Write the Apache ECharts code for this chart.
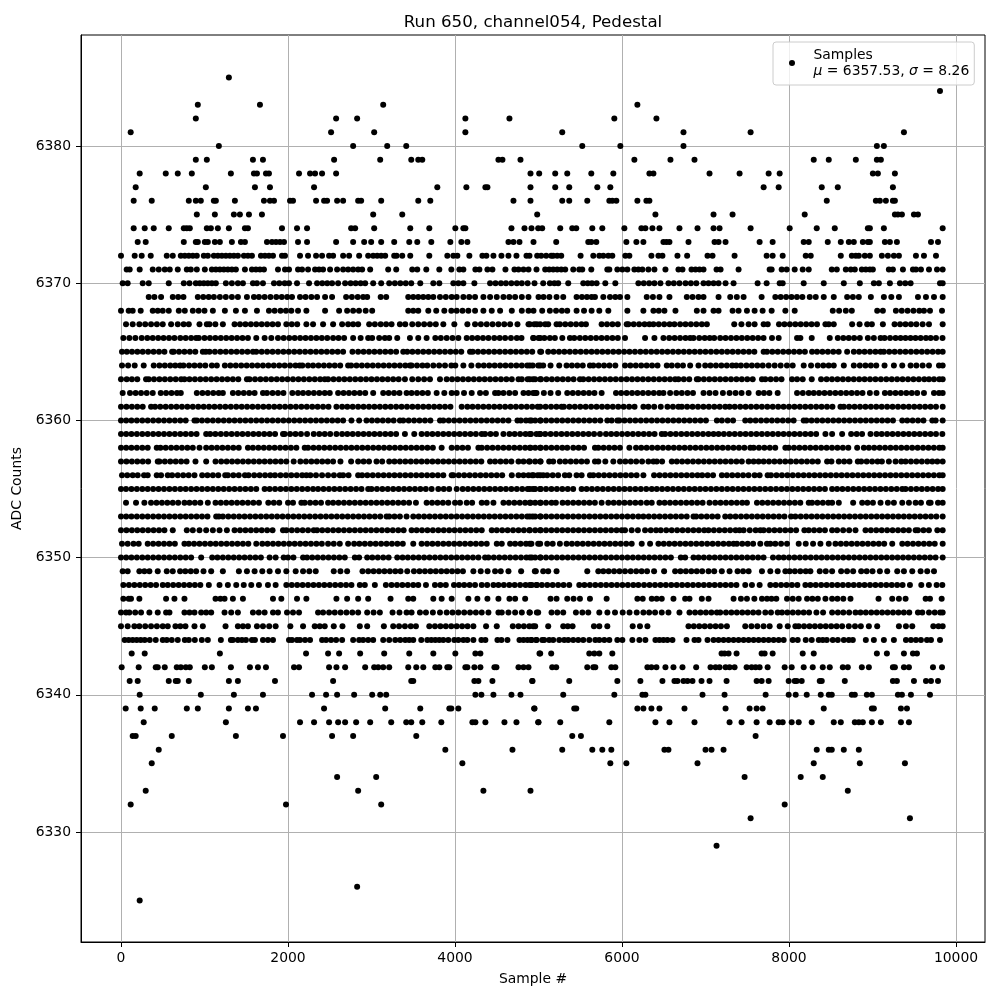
<!DOCTYPE html>
<html><head><meta charset="utf-8">
<script src="https://cdn.jsdelivr.net/npm/echarts@6/dist/echarts.min.js"></script>
<style>html,body{margin:0;padding:0;background:#fff}#c{width:1000px;height:1000px}</style></head>
<body><div id="c"></div>
<script>
const xTicks=[0,2000,4000,6000,8000,10000];
const yTicks=[6330,6340,6350,6360,6370,6380];
const level6385=[1292];
const level6384=[9808];
const level6383=[920,1664,3140,6184];
const level6382=[896,2576,2828,4124,4652,5908,6412];
const level6381=[116,2516,3032,4124,5284,6736,7540,9376];
const level6380=[1172,2780,3188,3416,5524,5980,6736,9052,9136];
const level6379=[896,1028,1580,1700,2552,3104,3476,3560,3608,4520,4568,4784,6148,6580,6868,8296,8476,8800,9052,9100];
const level6378=[224,536,680,848,1316,1592,1628,1736,1772,2132,2264,2324,2408,2576,4904,5008,5200,5344,5632,5896,6328,6376,7048,7408,7756,7888,9004,9064,9268];
const level6377=[176,1016,1604,1784,2312,3788,4136,4364,4388,4904,5200,5368,5704,5860,7696,7876,8392,8584,9244];
const level6376=[152,368,812,896,956,1112,1136,1364,1712,1784,1832,2024,2060,2336,2432,2468,2588,2660,2840,2876,3116,3560,3704,4700,4904,5284,5368,5584,5848,5884,5932,6184,6292,6328,8452,9040,9088,9160,9244,9268];
const level6375=[908,1124,1352,1424,1532,1688,3020,3368,4984,6400,7096,7324,8188,9268,9304,9352,9496,9544];
const level6374=[152,284,392,572,752,788,824,1028,1076,1160,1292,1484,1520,1928,2108,2228,2756,2804,3032,3464,3692,4004,4100,4124,4676,4832,4916,4996,5044,5260,5404,5452,5644,5764,6028,6232,6280,6364,6448,6688,6904,7096,7168,7540,8008,8332,8548,8944,8968,9136,9840];
const level6373=[200,296,752,896,920,1004,1040,1124,1184,1328,1436,1484,1748,1808,1856,1904,1952,2120,2228,2576,2780,2912,2996,3116,3272,3452,3548,3716,3944,4076,4148,4640,4700,4772,4940,5212,5596,5632,5692,6052,6172,6256,6496,6532,6568,6796,7108,7156,7240,7648,7804,8176,8236,8464,8620,8716,8776,8884,8944,8968,9148,9208,9292,9700,9784];
const level6372=[0,164,248,356,548,620,716,764,812,860,908,992,1040,1112,1160,1208,1256,1304,1352,1400,1472,1520,1568,1676,1724,1772,1820,1928,1964,2144,2240,2336,2408,2492,2540,2660,2732,2852,2960,3020,3068,3116,3164,3272,3300,3368,3464,3692,3908,3980,4028,4172,4328,4376,4460,4556,4640,4736,4856,4892,4984,5032,5092,5152,5176,5224,5272,5504,5656,5728,5776,5836,5884,6040,6088,6352,6436,6484,6664,6780,7024,7084,7348,7732,7804,7924,8200,8260,8620,8752,8800,8836,8908,8968,9112,9184,9256,9316,9520,9616,9760];
const level6371=[68,104,224,380,452,524,584,680,788,836,908,1004,1088,1136,1184,1232,1280,1328,1376,1484,1568,1616,1664,1712,1880,1964,2012,2120,2168,2240,2324,2372,2420,2504,2588,2660,2720,2780,2840,2888,2984,3200,3296,3488,3548,3656,3812,3956,4052,4100,4244,4292,4388,4448,4604,4712,4760,4820,4880,4976,5080,5128,5176,5224,5272,5320,5416,5488,5524,5632,5824,5848,5944,6004,6064,6148,6196,6244,6316,6388,6520,6676,6724,6832,6880,6928,6976,7132,7180,7396,7768,7792,7912,7972,8068,8164,8236,8512,8572,8680,8740,8788,8872,8920,8968,9004,9196,9244,9364,9484,9520,9580,9676,9772,9840];
const level6370=[20,80,260,332,572,752,820,896,944,992,1040,1088,1136,1256,1328,1400,1460,1580,1628,1700,1832,1896,1960,2012,2108,2252,2348,2410,2470,2528,2600,2684,2750,2810,2870,2924,3020,3116,3212,3280,3345,3410,3476,3584,3740,3812,3980,4040,4100,4232,4420,4485,4550,4610,4675,4740,4800,4870,4952,5056,5136,5190,5236,5356,5536,5590,5640,5696,5800,5920,6196,6260,6325,6388,6460,6556,6620,6688,6760,6825,6890,6976,7036,7096,7156,7240,7336,7624,7732,7888,7924,8176,8416,8656,8848,9016,9076,9208,9328,9392,9456,9808,9840];
const level6369=[332,400,480,620,685,748,920,985,1050,1112,1184,1255,1328,1400,1508,1592,1652,1720,1790,1860,1925,1990,2048,2144,2210,2280,2348,2444,2528,2696,2765,2835,2900,2948,3110,3176,3440,3500,3560,3620,3680,3740,3820,3890,3960,4020,4100,4170,4240,4340,4420,4500,4580,4650,4720,4800,4880,5000,5060,5130,5216,5296,5456,5520,5580,5636,5676,5776,5856,5920,5976,6064,6296,6370,6448,6568,6776,6845,6916,6976,7156,7296,7375,7456,7672,7836,7900,7965,8030,8095,8160,8248,8320,8416,8536,8696,8765,8836,8980,9136,9225,9316,9544,9640,9736,9840];
const level6368=[0,92,140,236,380,440,500,572,692,764,860,930,1000,1100,1244,1376,1484,1628,1772,1840,1910,1975,2040,2120,2220,2444,2612,2708,2780,2850,2930,3008,3440,3500,3560,3680,3775,3872,3956,4020,4090,4160,4240,4340,4440,4540,4680,4800,4880,4940,5044,5136,5210,5280,5344,5456,5545,5636,5728,5836,6064,6256,6376,6440,6508,6640,6896,6976,7096,7156,7324,7396,7496,7588,7684,7792,7956,8068,8524,8600,8680,8752,9056,9124,9280,9350,9420,9490,9560,9616,9688,9832];
const level6367=[60,140,220,290,360,430,500,600,680,750,812,940,1028,1060,1130,1220,1360,1425,1490,1555,1620,1685,1750,1815,1880,1980,2045,2110,2220,2300,2420,2540,2648,2720,2780,2840,2972,3040,3110,3175,3240,3340,3404,3488,3560,3630,3700,3770,3860,3992,4148,4240,4310,4380,4450,4520,4590,4660,4748,4880,4950,5020,4896,4980,5080,5116,5216,5256,5320,5385,5450,5515,5568,5756,5820,5885,5950,6056,6076,6140,6205,6270,6328,6376,6440,6505,6570,6628,6696,6760,6825,6890,6956,7016,7344,7430,7516,7588,7696,7745,7880,7945,8010,8075,8140,8205,8270,8335,8436,8476,8536,8756,8845,8936,8992,9124,9264,9330,9395,9460,9525,9600,9676,9840];
const level6366=[28,100,172,248,315,380,445,510,575,640,710,775,840,900,932,1000,1065,1130,1195,1260,1325,1390,1455,1520,1620,1720,1800,1880,1948,2015,2080,2145,2210,2275,2340,2405,2470,2540,2605,2672,2780,2870,2960,3008,3092,3160,3212,3308,3460,3560,3660,3764,3830,3900,3970,4040,4140,4205,4270,4335,4400,4470,4535,4600,4670,4740,4796,4940,5020,4936,5000,5070,5136,5196,5285,5376,5428,5495,5560,5625,5690,5755,5820,5885,5950,6036,6276,6388,6496,6565,6630,6695,6760,6816,6856,6925,6990,7050,7104,7176,7240,7305,7370,7435,7500,7565,7630,7695,7796,7876,8096,8136,8272,8488,8584,8650,8715,8780,8848,8944,9016,9096,9144,9210,9276,9336,9395,9455,9515,9576,9640,9696,9760,9838];
const level6365=[12,70,132,196,260,325,390,455,520,612,632,695,760,825,890,980,1016,1060,1125,1190,1255,1320,1385,1450,1515,1580,1620,1685,1750,1815,1880,1945,2010,2075,2140,2205,2270,2335,2400,2465,2530,2595,2660,2772,2840,2905,2970,3035,3100,3165,3230,3295,3380,3428,3490,3555,3620,3685,3750,3815,3880,3945,4010,4075,4180,4212,4275,4340,4405,4470,4535,4600,4665,4730,4795,4860,4925,5020,5032,5116,5180,5245,5310,5375,5440,5505,5570,5635,5700,5765,5830,5895,5960,6025,6090,6155,6220,6285,6350,6415,6480,6545,6610,6675,6740,6805,6870,6935,7000,7065,7130,7195,7260,7325,7390,7455,7520,7585,7696,7736,7800,7865,7930,7995,8060,8125,8190,8276,8336,8400,8465,8530,8595,8696,8776,8840,8905,8970,9035,9096,9136,9200,9265,9330,9395,9460,9525,9590,9655,9720,9785,9840];
const level6364=[12,85,164,272,392,460,525,590,650,708,748,815,880,945,1010,1088,1148,1244,1310,1375,1440,1505,1570,1635,1700,1765,1830,1895,1960,2025,2090,2140,2172,2240,2300,2365,2430,2495,2560,2625,2720,2756,2820,2885,2950,3015,3080,3145,3210,3275,3340,3405,3460,3480,3545,3610,3668,3740,3810,3880,3956,4004,4100,4196,4280,4345,4410,4475,4540,4605,4670,4735,4800,4865,4930,5020,4896,4996,5056,5144,5248,5336,5400,5465,5530,5616,5656,5720,5785,5850,5920,6036,6100,6165,6230,6295,6360,6425,6536,6596,6665,6730,6816,6916,6996,7060,7125,7190,7255,7320,7368,7424,7490,7555,7620,7685,7756,7828,7900,7975,8044,8176,8264,8344,8410,8475,8536,8656,8776,8848,8915,8980,9045,9144,9256,9356,9456,9525,9600,9676,9796,9840];
const level6363=[0,68,130,195,300,332,395,460,525,590,655,720,760,820,885,950,1015,1080,1145,1210,1275,1340,1405,1508,1540,1605,1670,1735,1800,1865,1930,1995,2060,2125,2190,2255,2320,2385,2440,2480,2545,2610,2675,2740,2805,2870,2935,3000,3065,3130,3195,3260,3325,3400,3488,3560,3630,3700,3820,3900,3965,4030,4095,4160,4225,4290,4355,4420,4485,4550,4615,4680,4760,4800,4870,4935,5020,4896,4960,5030,5095,5160,5225,5290,5355,5420,5496,5536,5600,5665,5730,5795,5860,5925,5990,6055,6120,6185,6250,6315,6380,6445,6510,6575,6636,6676,6740,6805,6896,6916,6980,7045,7110,7175,7240,7305,7370,7435,7500,7565,7676,7716,7780,7845,7910,8036,8096,8164,8272,8384,8450,8515,8580,8645,8710,8775,8840,8905,8970,9035,9100,9165,9230,9295,9360,9425,9490,9555,9620,9676,9736,9800,9840];
const level6362=[20,108,175,240,308,380,476,540,605,670,716,908,975,1040,1105,1170,1220,1340,1405,1470,1535,1600,1700,1748,1815,1880,1945,2052,2120,2180,2245,2310,2375,2440,2500,2600,2665,2730,2795,2860,2925,3020,3140,3205,3270,3335,3420,3480,3545,3610,3675,3780,3872,3960,4020,4108,4200,4300,4370,4480,4520,4580,4650,4720,4820,4880,4960,4936,4976,5064,5144,5236,5344,5410,5475,5540,5605,5670,5756,5928,5990,6055,6120,6185,6250,6315,6380,6445,6496,6576,6650,6716,6784,6850,6976,7048,7120,7208,7288,7360,7432,7516,7636,7700,7765,7864,8096,8165,8236,8296,8360,8425,8490,8555,8620,8685,8750,8815,8880,8968,9048,9148,9210,9275,9340,9405,9470,9535,9616,9736,9796,9840];
const level6361=[0,65,130,195,260,360,408,470,535,600,665,730,795,860,925,990,1055,1120,1185,1250,1315,1380,1445,1510,1575,1640,1705,1770,1835,1900,1965,2030,2095,2160,2225,2290,2355,2420,2485,2580,2648,2710,2775,2840,2905,2970,3035,3100,3165,3230,3295,3360,3425,3490,3555,3620,3685,3750,3815,3880,3945,4080,4148,4210,4275,4340,4405,4470,4535,4600,4665,4730,4795,4860,4925,4990,5020,5085,5150,5215,5276,5304,5370,5435,5500,5565,5630,5695,5760,5825,5890,5955,6020,6085,6150,6256,6316,6385,6464,6544,6610,6676,6716,6780,6845,6910,6975,7040,7105,7170,7236,7288,7350,7415,7480,7545,7610,7675,7740,7805,7870,7935,8000,8065,8130,8195,8260,8325,8390,8455,8520,8616,8656,8720,8785,8850,8915,8980,9045,9110,9175,9240,9305,9370,9435,9500,9565,9630,9695,9760,9840];
const level6360=[0,62,125,190,255,320,385,450,515,580,645,710,775,880,908,970,1035,1100,1165,1230,1295,1360,1425,1490,1555,1620,1685,1750,1815,1880,1945,2010,2075,2140,2205,2270,2335,2400,2465,2530,2595,2660,2760,2852,2940,3005,3070,3135,3200,3265,3340,3380,3445,3510,3575,3640,3705,3820,3860,3925,3990,4055,4120,4185,4250,4315,4380,4445,4510,4575,4640,4748,4788,4850,4915,5020,4896,4960,5025,5090,5155,5220,5285,5350,5415,5480,5545,5610,5675,5740,5824,5876,5944,5968,6030,6095,6160,6225,6290,6355,6420,6485,6550,6615,6680,6745,6810,6875,6940,7005,7136,7196,7265,7330,7476,7536,7600,7665,7730,7795,7860,7925,7990,8055,8176,8208,8270,8335,8400,8465,8530,8595,8660,8725,8790,8855,8920,8985,9050,9115,9180,9245,9356,9416,9480,9545,9610,9716,9756,9840];
const level6359=[0,62,125,190,255,320,385,450,515,580,645,710,775,840,905,1020,1068,1130,1195,1260,1325,1390,1455,1520,1585,1650,1715,1780,1845,1940,1960,2025,2090,2155,2228,2308,2375,2440,2505,2580,2648,2710,2775,2840,2905,2970,3035,3100,3165,3230,3295,3400,3512,3600,3665,3730,3795,3860,3925,3990,4055,4120,4185,4250,4320,4360,4425,4490,4580,4652,4715,4780,4845,4910,5020,4896,4976,5016,5080,5145,5210,5275,5340,5405,5470,5535,5600,5665,5736,5808,5870,5935,6000,6065,6130,6195,6260,6325,6390,6476,6516,6580,6645,6710,6775,6840,6905,6970,7035,7096,7156,7220,7285,7350,7415,7480,7545,7610,7675,7740,7805,7870,7935,8000,8065,8130,8195,8260,8325,8436,8516,8636,8744,8810,8875,8976,9048,9110,9175,9240,9305,9370,9435,9500,9565,9630,9695,9760,9836];
const level6358=[0,62,125,190,255,320,428,472,535,600,665,730,795,860,940,1020,1085,1150,1215,1280,1345,1410,1520,1580,1645,1710,1775,1840,1905,1970,2035,2100,2200,2240,2305,2370,2435,2500,2565,2630,2695,2760,2825,2890,2955,3020,3085,3150,3215,3280,3345,3410,3475,3540,3605,3670,3735,3840,3960,4025,4090,4155,4280,4320,4385,4450,4515,4580,4645,4710,4775,4840,4905,5020,4896,4960,5025,5090,5155,5220,5285,5344,5416,5480,5545,5676,5716,5780,5845,5910,5975,6088,6168,6230,6295,6360,6425,6490,6555,6620,6685,6750,6815,6880,6945,7010,7075,7140,7205,7270,7335,7400,7465,7536,7576,7640,7705,7770,7835,7956,7996,8060,8125,8190,8255,8320,8385,8450,8515,8580,8645,8710,8816,8896,8956,9020,9085,9150,9215,9280,9345,9410,9475,9540,9605,9670,9735,9800,9840];
const level6357=[0,65,130,195,260,325,440,460,525,590,655,720,785,892,1020,1132,1200,1265,1330,1395,1460,1525,1590,1655,1720,1785,1850,1915,1980,2068,2148,2215,2280,2345,2410,2475,2540,2628,2756,2840,2905,2970,3060,3128,3212,3275,3340,3405,3470,3535,3600,3665,3730,3795,3860,3925,3990,4055,4120,4185,4250,4315,4420,4480,4545,4610,4675,4760,4820,4885,5020,4896,4960,5025,5128,5176,5256,5320,5385,5450,5515,5580,5676,5716,5800,5896,5976,6040,6105,6170,6240,6316,6376,6416,6480,6596,6656,6720,6785,6850,6915,6980,7045,7110,7175,7240,7305,7370,7435,7516,7576,7636,7696,7760,7825,7890,7955,8020,8085,8150,8215,8280,8345,8456,8508,8596,8660,8724,8824,8864,8930,8995,9060,9112,9196,9276,9344,9396,9460,9525,9590,9656,9716,9776,9840];
const level6356=[12,75,140,200,276,320,428,480,560,612,680,745,810,880,972,1035,1100,1165,1248,1280,1345,1410,1484,1528,1595,1660,1725,1788,1844,1910,1975,2040,2105,2170,2220,2268,2335,2408,2480,2550,2620,2660,2725,2840,2888,2950,3015,3080,3145,3210,3275,3340,3405,3470,3535,3600,3665,3730,3795,3860,3960,3980,4045,4110,4175,4240,4305,4370,4435,4500,4565,4680,4760,4820,4880,4940,5020,4924,4990,5056,5104,5170,5235,5316,5368,5456,5516,5616,5656,5720,5785,5850,5915,5980,6045,6110,6175,6256,6384,6450,6515,6580,6645,6710,6775,6840,6904,6960,7025,7090,7196,7256,7320,7385,7450,7515,7588,7648,7744,7784,7850,7915,7980,8045,8110,8175,8240,8305,8370,8435,8500,8565,8630,8695,8760,8825,8890,8955,9020,9085,9150,9215,9280,9345,9410,9475,9540,9605,9670,9735,9800,9840];
const level6355=[0,60,125,190,255,320,385,450,515,580,645,710,775,840,905,970,1035,1100,1165,1230,1295,1360,1425,1490,1555,1620,1720,1780,1845,1910,1975,2040,2105,2170,2235,2300,2360,2425,2490,2555,2620,2685,2750,2815,2880,2960,3000,3065,3130,3195,3260,3325,3390,3455,3520,3585,3650,3720,3800,3865,3930,4020,4092,4155,4220,4285,4350,4415,4480,4545,4610,4675,4740,4805,4870,4935,5020,4896,4960,5025,5090,5155,5220,5285,5350,5415,5516,5576,5640,5705,5770,5835,5900,5965,6030,6095,6160,6225,6290,6356,6416,6480,6545,6610,6675,6740,6805,6870,6935,7000,7065,7130,7195,7260,7325,7390,7455,7520,7585,7650,7715,7780,7845,7910,7975,8040,8105,8170,8235,8300,8365,8430,8516,8576,8640,8705,8770,8835,8900,8965,9030,9095,9160,9225,9290,9356,9396,9460,9525,9590,9655,9720,9785,9840];
const level6354=[60,180,280,360,425,490,555,620,685,760,820,885,950,1040,1132,1195,1260,1325,1390,1455,1520,1585,1652,1764,1830,1895,2000,2060,2160,2200,2265,2330,2395,2480,2540,2605,2670,2735,2800,2865,2930,2995,3060,3125,3190,3255,3320,3385,3450,3532,3660,3725,3790,3855,3920,4000,4060,4140,4205,4320,4380,4460,4580,4645,4710,4775,4840,4905,5020,4896,4960,5025,5090,5156,5208,5288,5350,5415,5480,5545,5610,5675,5756,5836,5900,5965,6030,6095,6160,6225,6296,6356,6448,6510,6575,6640,6705,6770,6835,6900,6965,7048,7116,7180,7245,7310,7375,7440,7496,7616,7680,7745,7810,7875,7940,8005,8070,8135,8236,8276,8340,8405,8470,8516,8596,8768,8876,8940,9005,9096,9184,9256,9356,9436,9516,9580,9676,9696,9784,9840];
const level6353=[0,62,125,190,255,320,385,450,515,580,645,710,775,840,905,970,1035,1140,1172,1220,1285,1350,1415,1480,1545,1610,1675,1740,1805,1870,1935,2000,2065,2130,2195,2260,2325,2390,2455,2520,2585,2650,2715,2780,2845,2910,2975,3040,3105,3180,3212,3275,3340,3420,3500,3565,3630,3695,3760,3825,3890,3955,4020,4085,4150,4215,4280,4345,4410,4475,4540,4605,4670,4735,4800,4865,4930,5020,4896,4960,5025,5090,5155,5220,5285,5350,5415,5480,5545,5610,5675,5740,5805,5870,5935,6000,6065,6130,6196,6256,6320,6385,6450,6515,6580,6645,6710,6775,6856,6888,6950,7015,7080,7145,7236,7296,7360,7425,7490,7555,7620,7685,7750,7815,7880,7945,8024,8076,8140,8205,8270,8335,8400,8465,8530,8595,8660,8725,8790,8855,8920,8985,9050,9115,9180,9245,9310,9375,9440,9505,9570,9635,9700,9765,9840];
const level6352=[0,65,130,195,260,325,390,455,520,620,788,860,940,1020,1100,1180,1268,1360,1425,1490,1555,1620,1685,1750,1815,1940,1980,2045,2110,2175,2240,2308,2348,2410,2475,2540,2605,2670,2735,2800,2865,2930,2995,3060,3125,3190,3255,3320,3385,3480,3540,3605,3670,3735,3800,3865,3930,3995,4060,4125,4190,4255,4320,4440,4500,4565,4630,4695,4760,4825,4890,5020,4896,4960,5025,5090,5155,5220,5285,5350,5415,5480,5545,5610,5675,5740,5805,5870,5935,5996,6036,6116,6190,6276,6344,6408,6464,6530,6595,6660,6725,6790,6855,6920,6984,7036,7100,7165,7230,7295,7360,7408,7456,7530,7600,7656,7696,7760,7825,7890,7955,8020,8085,8184,8236,8300,8365,8430,8516,8576,8648,8720,8796,8916,8980,9045,9110,9175,9240,9305,9370,9435,9516,9544,9610,9675,9776,9840];
const level6351=[12,80,150,212,320,385,450,515,580,645,760,812,875,940,1005,1070,1135,1200,1265,1330,1395,1460,1525,1620,1692,1755,1820,1885,1950,2015,2080,2145,2210,2275,2340,2405,2480,2548,2620,2720,2792,2855,2920,2985,3050,3115,3180,3245,3310,3375,3500,3600,3665,3730,3795,3860,3925,3990,4055,4120,4185,4250,4315,4380,4500,4560,4660,4720,4785,4850,4915,5020,4896,4996,5104,5170,5256,5336,5400,5465,5530,5595,5660,5725,5790,5855,5920,5985,6050,6116,6236,6336,6436,6500,6565,6630,6695,6760,6825,6890,6955,7020,7085,7150,7215,7280,7336,7376,7440,7505,7570,7656,7736,7776,7836,7905,7976,8116,8200,8288,8376,8476,8556,8620,8685,8750,8815,8880,8945,9010,9075,9140,9236,9356,9420,9485,9550,9615,9680,9745,9840];
const level6350=[0,62,125,190,255,320,385,450,515,580,645,710,775,840,960,1092,1155,1220,1285,1350,1415,1480,1545,1610,1675,1780,1852,1948,2000,2065,2180,2228,2290,2355,2420,2485,2550,2615,2680,2800,2852,2948,3010,3075,3140,3205,3308,3372,3435,3500,3565,3630,3695,3760,3825,3890,3955,4020,4085,4150,4215,4280,4360,4400,4465,4530,4595,4660,4725,4790,4855,4920,5020,4896,4960,5025,5090,5155,5220,5285,5350,5415,5480,5545,5610,5675,5740,5805,5870,5935,6000,6065,6130,6195,6260,6325,6390,6455,6520,6585,6704,6756,6856,6916,6980,7045,7110,7175,7240,7305,7370,7435,7500,7565,7630,7695,7808,7876,7936,8000,8065,8130,8195,8260,8325,8390,8455,8520,8585,8650,8715,8780,8845,8910,8975,9040,9105,9170,9235,9300,9365,9430,9495,9560,9625,9690,9755,9840];
const level6349=[20,80,220,280,340,440,548,620,708,770,835,900,988,1080,1220,1412,1508,1600,1692,1780,1880,1980,2092,2180,2255,2332,2548,2628,2708,2892,2960,3025,3090,3155,3220,3285,3348,3428,3508,3575,3640,3705,3770,3835,3900,3965,4030,4095,4220,4308,4390,4480,4548,4640,4792,4968,4956,5056,5116,5216,5584,5716,5776,5840,5905,5970,6036,6104,6170,6235,6300,6384,6504,6636,6700,6765,6830,6895,6960,7036,7104,7195,7288,7384,7450,7516,7676,7776,7864,7956,8008,8070,8135,8200,8256,8368,8440,8516,8624,8695,8768,8864,8930,9000,9088,9176,9296,9376,9476,9576,9655,9736];
const level6348=[28,95,160,225,290,355,420,500,560,625,690,755,820,885,950,1052,1180,1280,1380,1470,1560,1652,1760,1852,1980,2045,2110,2175,2240,2305,2370,2435,2500,2565,2630,2695,2760,2860,2920,3040,3172,3240,3305,3370,3435,3500,3560,3652,3760,3825,3890,3988,4048,4110,4175,4240,4320,4385,4460,4520,4585,4650,4715,4780,4845,4920,4980,4896,4976,5040,5105,5170,5235,5300,5368,5488,5550,5615,5680,5745,5810,5875,5940,6005,6070,6135,6196,6264,6330,6395,6460,6525,6590,6655,6720,6785,6850,6915,6980,7045,7110,7175,7240,7305,7370,7476,7556,7648,7776,7840,7905,7970,8035,8100,8196,8256,8320,8385,8450,8515,8580,8645,8710,8775,8840,8905,8970,9035,9100,9165,9230,9295,9360,9448,9584,9675,9768,9836];
const level6347=[28,92,120,220,540,640,760,1132,1190,1240,1340,1460,1820,1920,2108,2220,2580,2708,2840,2960,3228,3440,3500,3740,3840,3960,4160,4268,4388,4520,4652,4720,4840,5144,5216,5344,5420,5496,5616,5816,6184,6248,6356,6415,6476,6616,6756,6808,6956,7036,7336,7424,7496,7585,7676,7736,7790,7848,7976,8045,8116,8216,8280,8345,8436,8516,8580,8650,8736,9072,9236,9316,9396,9636,9688,9828];
const level6346=[0,60,100,170,240,340,440,540,580,760,820,880,960,1020,1080,1240,1320,1400,1580,1650,1720,1820,1880,1988,2060,2132,2360,2420,2492,2560,2630,2700,2770,2840,2948,3025,3100,3252,3335,3420,3480,3580,3652,3735,3820,3900,3970,4040,4110,4180,4250,4320,4400,4520,4560,4640,4720,4800,4892,4980,4896,4996,5156,5225,5296,5448,5525,5596,5728,5825,5916,6008,6090,6176,6256,6325,6396,6476,6556,6688,6808,6875,6940,7005,7070,7136,7176,7245,7310,7375,7440,7505,7570,7635,7716,7784,7864,7916,7980,8045,8110,8175,8240,8328,8408,8516,8585,8650,8720,8796,8856,8920,8985,9050,9115,9180,9245,9310,9375,9440,9544,9596,9676,9745,9810,9840];
const level6345=[0,80,160,220,290,360,430,500,560,652,710,772,880,980,1252,1400,1460,1520,1628,1700,1775,1852,2028,2180,2320,2380,2440,2548,2652,2860,2948,3148,3260,3330,3400,3470,3532,3692,3760,3825,3890,3955,4020,4085,4150,4220,4372,4500,4692,4760,4825,4890,4960,4936,5116,5296,5350,5408,5664,5728,5824,6128,6215,6304,6796,6860,6925,6990,7055,7120,7185,7256,7476,7550,7620,7695,7768,7888,7985,8076,8116,8180,8245,8310,8375,8440,8505,8570,8636,8716,8790,8860,8956,9056,9316,9400,9476,9728,9790,9840];
const level6344=[44,92,140,188,236,284,344,416,500,548,608,680,764,812,884,968,1040,1196,1316,1340,1400,1448,1496,1568,1604,1700,1760,1820,2012,2048,2108,2144,2204,2264,2408,2456,2516,2576,2648,2780,2852,2900,2960,3020,3140,3212,3284,3344,3404,3452,3500,3596,3668,3716,3764,3812,3860,3920,3992,4040,4100,4148,4220,4316,4364,4508,4556,4628,4772,4820,4868,4916,4976,4912,4972,5044,5068,5128,5176,5248,5308,5356,5416,5476,5536,5608,5680,5728,5788,5848,5944,6004,6124,6208,6280,6400,6448,6496,6544,6604,6772,6868,6916,7024,7096,7156,7216,7276,7336,7396,7456,7516,7576,7636,7696,7756,7816,7876,7936,8044,8104,8200,8272,8356,8404,8452,8524,8584,8656,8716,8764,8920,9016,9136,9256,9400,9460,9520,9580,9652,9700,9808];
const level6343=[128,284,1184,2216,2480,2612,2864,3152,3452,3740,4004,4244,4304,5012,5020,5152,5608,5668,5728,5884,7192,7228,7276,7372,7672,7708,7804,8164,8296,9052,9172,9376,9484,9532];
const level6342=[8,212,416,440,524,668,716,776,824,1004,1088,1316,1544,1640,1736,2072,2132,2492,2580,2684,2924,3032,3080,3140,3212,3440,3536,3620,3764,3812,3908,3932,4124,4148,4232,4304,4472,4496,4760,4820,4880,5164,5212,5584,5656,5680,5872,5920,6304,6352,6412,6520,6616,6724,6888,7060,7120,7168,7240,7288,7348,7492,7552,7600,7648,7744,7948,8032,8176,8284,8404,8488,8644,8704,8872,8956,9244,9268,9376,9436,9724,9832];
const level6341=[104,200,572,656,680,812,1292,1400,1844,2540,3476,3500,4232,4280,4448,4928,4924,5368,5944,6220,6484,6628,6664,6736,6784,6844,6952,7048,7252,7612,7672,7756,7996,8068,8092,8152,8368,8392,8668,9244,9292,9496,9640,9700,9784];
const level6340=[224,956,1352,1700,2288,2456,2588,2792,3008,3104,3176,4244,4316,4460,4676,4784,5296,5908,6244,6280,6964,7228,7720,7996,8080,8212,8380,8476,8512,8752,8788,8932,8992,9304,9352,9460,9688];
const level6339=[56,236,404,788,920,1292,1520,1616,2432,3164,3584,3932,3956,4040,4952,4948,5428,5452,6184,6256,6352,6448,6748,7240,7528,7612,7684,8416,8992,9016,9340,9412];
const level6338=[272,1256,2144,2312,2492,2600,2684,2816,2984,3236,3416,3476,3608,3836,4208,4244,4364,4592,4736,5000,4996,5260,5848,6400,6568,6868,7288,7432,7612,7768,7876,7924,8032,8116,8272,8536,8620,8788,8836,8884,8992,9100,9340,9436];
const level6337=[140,176,608,1376,1940,2528,2780,3536,5404,5508,7600];
const level6336=[452,3884,4688,5284,5644,5764,5872,6508,6556,7000,7072,7216,8332,8476,8512,8656,8836];
const level6335=[368,4088,5860,6052,6904,8296,8848,9388];
const level6334=[2588,3056,7468,8140,8404];
const level6333=[296,2840,4340,4904,8704];
const level6332=[116,1976,3116,7948];
const level6331=[7540,9448];
const level6329=[7132];
const level6326=[2828];
const level6325=[224];
const rows=[[6385,level6385],[6384,level6384],[6383,level6383],[6382,level6382],[6381,level6381],[6380,level6380],[6379,level6379],[6378,level6378],[6377,level6377],[6376,level6376],[6375,level6375],[6374,level6374],[6373,level6373],[6372,level6372],[6371,level6371],[6370,level6370],[6369,level6369],[6368,level6368],[6367,level6367],[6366,level6366],[6365,level6365],[6364,level6364],[6363,level6363],[6362,level6362],[6361,level6361],[6360,level6360],[6359,level6359],[6358,level6358],[6357,level6357],[6356,level6356],[6355,level6355],[6354,level6354],[6353,level6353],[6352,level6352],[6351,level6351],[6350,level6350],[6349,level6349],[6348,level6348],[6347,level6347],[6346,level6346],[6345,level6345],[6344,level6344],[6343,level6343],[6342,level6342],[6341,level6341],[6340,level6340],[6339,level6339],[6338,level6338],[6337,level6337],[6336,level6336],[6335,level6335],[6334,level6334],[6333,level6333],[6332,level6332],[6331,level6331],[6329,level6329],[6326,level6326],[6325,level6325]];
const points=[];
rows.forEach(([y,xs])=>xs.forEach(x=>points.push([x,y])));
const F='"DejaVu Sans"';
const plain=v=>String(v);
const chart=echarts.init(document.getElementById('c'),null,{renderer:'canvas'});
const axisCommon={
  type:'value',
  axisLine:{show:true,onZero:false,lineStyle:{color:'#000',width:1}},
  splitLine:{show:true,lineStyle:{color:'#b0b0b0',width:1}},
  nameTextStyle:{color:'#000',fontFamily:F,fontSize:13.9},
  nameLocation:'middle'
};
chart.setOption({
  animation:false,
  backgroundColor:'#fff',
  title:{text:'Run 650, channel054, Pedestal',left:528,top:9,textAlign:'center',
    textStyle:{fontFamily:F,fontSize:16.67,fontWeight:'normal',color:'#000'}},
  grid:{left:81,right:15,top:35,bottom:58,show:true,borderColor:'#000',borderWidth:1,backgroundColor:'transparent'},
  xAxis:Object.assign({},axisCommon,{min:-479,max:10347,name:'Sample #',nameGap:30,
    axisTick:{show:true,length:5,lineStyle:{color:'#000',width:1},customValues:xTicks},
    axisLabel:{color:'#000',fontFamily:F,fontSize:13.9,margin:9,customValues:xTicks,formatter:plain}}),
  yAxis:Object.assign({},axisCommon,{min:6321.98,max:6388.09,name:'ADC Counts',nameGap:49,
    axisTick:{show:true,length:5,lineStyle:{color:'#000',width:1},customValues:yTicks},
    axisLabel:{color:'#000',fontFamily:F,fontSize:13.9,margin:10,customValues:yTicks,formatter:plain}}),
  legend:{show:true,left:773,top:42,orient:'vertical',
    padding:[5,5,6,16],itemWidth:33,itemHeight:6,itemGap:0,
    backgroundColor:'rgba(255,255,255,0.8)',borderColor:'#ccc',borderWidth:1,borderRadius:3,
    data:[{name:'Samples',icon:'circle'}],
    formatter:()=>'Samples\n{i|μ} = 6357.53, {i|σ} = 8.26',
    textStyle:{fontFamily:F,fontSize:13.9,color:'#000',lineHeight:16,
      rich:{i:{fontFamily:F,fontStyle:'italic',fontSize:13.9,lineHeight:16,color:'#000'}}}},
  series:[{name:'Samples',type:'scatter',data:points,symbol:'circle',symbolSize:6,z:5,
    itemStyle:{color:'#000',opacity:1},silent:true,large:false,progressive:0}]
});
</script></body></html>
